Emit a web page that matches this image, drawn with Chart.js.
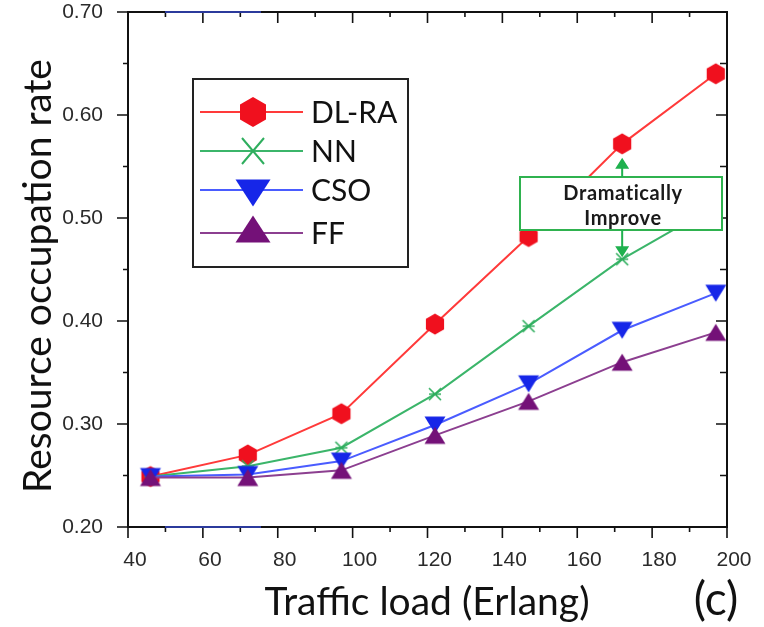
<!DOCTYPE html>
<html>
<head>
<meta charset="utf-8">
<script src="https://cdn.jsdelivr.net/npm/chart.js@4.4.0/dist/chart.umd.min.js"></script>
<style>
  html, body { margin: 0; padding: 0; background: #fff; }
  #wrap { width: 764px; height: 627px; position: relative; }
</style>
</head>
<body>
<div id="wrap"><canvas id="chart"></canvas></div>
<script>
// ===== data =====
const loads = [46, 72, 97, 122, 147, 172, 197];
const dlra  = [0.249, 0.270, 0.310, 0.397, 0.482, 0.572, 0.640];
const nn    = [0.249, 0.259, 0.277, 0.329, 0.395, 0.460, 0.512];
const cso   = [0.249, 0.251, 0.264, 0.299, 0.339, 0.391, 0.427];
const ff    = [0.248, 0.248, 0.255, 0.289, 0.322, 0.360, 0.389];
const seriesNames = ['DL-RA', 'NN', 'CSO', 'FF'];
const xRange = [40, 200];
const yRange = [0.20, 0.70];

const COL = {
  dlraLine: '#ff3a3a', dlraMark: '#f0101e',
  nnLine: '#3bb56a',   nnMark: '#2fae5e',
  csoLine: '#4a5cff',  csoMark: '#1626e8',
  ffLine: '#8c3f90',   ffMark: '#741178'
};

// ===== marker shapes =====
function hexPath(ctx, cx, cy, r) {
  ctx.beginPath();
  for (let i = 0; i < 6; i++) {
    const a = Math.PI / 2 + i * Math.PI / 3;
    const px = cx + r * Math.cos(a), py = cy - r * Math.sin(a);
    if (i === 0) ctx.moveTo(px, py); else ctx.lineTo(px, py);
  }
  ctx.closePath();
}
function triPath(ctx, cx, cy, w, h, down) {
  ctx.beginPath();
  if (down) {
    ctx.moveTo(cx - w / 2, cy - h / 2);
    ctx.lineTo(cx + w / 2, cy - h / 2);
    ctx.lineTo(cx, cy + h / 2);
  } else {
    ctx.moveTo(cx - w / 2, cy + h / 2);
    ctx.lineTo(cx + w / 2, cy + h / 2);
    ctx.lineTo(cx, cy - h / 2);
  }
  ctx.closePath();
}
function makeMarker(size, draw) {
  const c = document.createElement('canvas');
  c.width = size; c.height = size;
  draw(c.getContext('2d'), size / 2);
  return c;
}
const hexMark = makeMarker(24, (ctx, m) => { hexPath(ctx, m, m, 10.5); ctx.fillStyle = COL.dlraMark; ctx.fill(); });
const starMark = makeMarker(16, (ctx, m) => {
  ctx.strokeStyle = COL.nnMark; ctx.lineWidth = 1.6;
  ctx.beginPath();
  ctx.moveTo(m - 6, m - 6); ctx.lineTo(m + 6, m + 6);
  ctx.moveTo(m + 6, m - 6); ctx.lineTo(m - 6, m + 6);
  ctx.moveTo(m - 6, m); ctx.lineTo(m + 6, m);
  ctx.stroke();
});
const downMark = makeMarker(24, (ctx, m) => { triPath(ctx, m, m, 21, 17, true); ctx.fillStyle = COL.csoMark; ctx.fill(); });
const upMark = makeMarker(24, (ctx, m) => { triPath(ctx, m, m, 21, 17, false); ctx.fillStyle = COL.ffMark; ctx.fill(); });

function pts(ys) { return loads.map((x, i) => ({ x: x, y: ys[i] })); }

function ds(label, ys, line, mark) {
  return {
    label: label, data: pts(ys), borderColor: line, backgroundColor: line,
    borderWidth: 2, pointStyle: mark, pointRadius: 10, pointHoverRadius: 10,
    tension: 0, clip: false
  };
}

// ===== frame, legend, titles, annotation =====
const decor = {
  id: 'decor',
  afterDatasetsDraw(chart) {
    const ctx = chart.ctx;
    const xs = chart.scales.x, ys = chart.scales.y;
    const a = chart.chartArea;
    ctx.save();

    // axes box
    ctx.strokeStyle = '#111';
    ctx.lineWidth = 2;
    ctx.strokeRect(a.left, a.top, a.right - a.left, a.bottom - a.top);

    // ticks
    ctx.lineWidth = 1.6;
    ctx.beginPath();
    for (let v = xRange[0]; v <= xRange[1]; v += 10) {
      const px = xs.getPixelForValue(v);
      const major = v % 20 === 0;
      ctx.moveTo(px, a.bottom); ctx.lineTo(px, a.bottom + (major ? 11 : 5));
      ctx.moveTo(px, a.top); ctx.lineTo(px, a.top + (major ? 11 : 5));
    }
    for (let k = 0; k <= 10; k++) {
      const v = yRange[0] + k * 0.05;
      const py = ys.getPixelForValue(v);
      const major = k % 2 === 0;
      ctx.moveTo(a.left, py); ctx.lineTo(a.left - (major ? 11 : 5), py);
      ctx.moveTo(a.right, py); ctx.lineTo(a.right - (major ? 11 : 7), py);
    }
    ctx.stroke();

    // blue strokes along top and bottom axes
    ctx.strokeStyle = '#2b3a9c';
    ctx.lineWidth = 2;
    ctx.beginPath();
    ctx.moveTo(165, a.top); ctx.lineTo(261, a.top);
    ctx.moveTo(165, a.bottom); ctx.lineTo(261, a.bottom);
    ctx.stroke();

    // legend
    const L = { x: 193, y: 79, w: 215, h: 188 };
    ctx.fillStyle = '#fff';
    ctx.fillRect(L.x, L.y, L.w, L.h);
    ctx.strokeStyle = '#222';
    ctx.lineWidth = 2;
    ctx.strokeRect(L.x, L.y, L.w, L.h);
    const rows = [112, 151, 190, 233];
    const lineCols = [COL.dlraLine, COL.nnLine, COL.csoLine, COL.ffLine];
    ctx.font = '30px Lato';
    ctx.textBaseline = 'middle';
    ctx.textAlign = 'left';
    rows.forEach((ry, i) => {
      ctx.strokeStyle = lineCols[i];
      ctx.lineWidth = 2;
      ctx.beginPath(); ctx.moveTo(200, ry); ctx.lineTo(303, ry); ctx.stroke();
      const mx = 253;
      if (i === 0) { hexPath(ctx, mx, ry, 15); ctx.fillStyle = COL.dlraMark; ctx.fill(); }
      if (i === 1) {
        ctx.strokeStyle = COL.nnMark; ctx.lineWidth = 2;
        ctx.beginPath();
        ctx.moveTo(mx - 11, ry - 13); ctx.lineTo(mx + 11, ry + 13);
        ctx.moveTo(mx + 11, ry - 13); ctx.lineTo(mx - 11, ry + 13);
        ctx.stroke();
      }
      if (i === 2) { triPath(ctx, mx, ry + 3, 35, 27, true); ctx.fillStyle = COL.csoMark; ctx.fill(); }
      if (i === 3) { triPath(ctx, mx, ry - 4, 35, 27, false); ctx.fillStyle = COL.ffMark; ctx.fill(); }
      ctx.fillStyle = '#111';
      ctx.fillText(seriesNames[i], 311, ry + 1);
    });

    // "Dramatically Improve" annotation
    const ax = xs.getPixelForValue(loads[5]);
    const B = { x: 520, y: 177, w: 202, h: 53 };
    ctx.fillStyle = '#fff';
    ctx.fillRect(B.x, B.y, B.w, B.h);
    ctx.strokeStyle = '#2fb24f';
    ctx.lineWidth = 2;
    ctx.strokeRect(B.x, B.y, B.w, B.h);
    ctx.fillStyle = '#1a1a1a';
    ctx.font = 'bold 20px Lato';
    ctx.textAlign = 'center';
    ctx.letterSpacing = '0.6px';
    ctx.fillText('Dramatically', B.x + B.w / 2 + 2, 194);
    ctx.fillText('Improve', B.x + B.w / 2 + 2, 219);
    ctx.letterSpacing = '0px';

    const topTip = ys.getPixelForValue(dlra[5]) + 14;
    const botTip = ys.getPixelForValue(nn[5]) - 2;
    ctx.strokeStyle = '#1fb14e';
    ctx.fillStyle = '#1fb14e';
    ctx.lineWidth = 2;
    ctx.beginPath();
    ctx.moveTo(ax, B.y); ctx.lineTo(ax, topTip + 8);
    ctx.moveTo(ax, B.y + B.h); ctx.lineTo(ax, botTip - 8);
    ctx.stroke();
    ctx.beginPath();
    ctx.moveTo(ax, topTip); ctx.lineTo(ax - 7, topTip + 11); ctx.lineTo(ax + 7, topTip + 11); ctx.closePath();
    ctx.moveTo(ax, botTip); ctx.lineTo(ax - 7, botTip - 11); ctx.lineTo(ax + 7, botTip - 11); ctx.closePath();
    ctx.fill();

    // axis titles
    ctx.fillStyle = '#111';
    ctx.font = '39px Lato';
    ctx.textAlign = 'center';
    ctx.textBaseline = 'middle';
    ctx.fillText('Traffic load (Erlang)', 427, 602);
    ctx.font = '46px Lato';
    ctx.fillText('(c)', 716, 600);
    ctx.save();
    ctx.translate(38, 276);
    ctx.rotate(-Math.PI / 2);
    ctx.font = '39px Lato';
    ctx.fillText('Resource occupation rate', 0, 0);
    ctx.restore();

    ctx.restore();
  }
};

new Chart(document.getElementById('chart'), {
  type: 'line',
  data: {
    datasets: [
      ds('FF', ff, COL.ffLine, upMark),
      ds('CSO', cso, COL.csoLine, downMark),
      ds('NN', nn, COL.nnLine, starMark),
      ds('DL-RA', dlra, COL.dlraLine, hexMark)
    ]
  },
  options: {
    responsive: true,
    maintainAspectRatio: false,
    animation: false,
    devicePixelRatio: 1,
    layout: { padding: { left: 0, right: 37, top: 12, bottom: 0 }, autoPadding: false },
    plugins: { legend: { display: false }, tooltip: { enabled: false } },
    scales: {
      x: {
        type: 'linear', min: xRange[0], max: xRange[1],
        grid: { display: false }, border: { display: false },
        afterFit: s => { s.height = 100; s.paddingLeft = 0; s.paddingRight = 0; },
        ticks: {
          stepSize: 10, autoSkip: false, maxRotation: 0, padding: 13, labelOffset: 7,
          color: '#2a2a2a', font: { family: 'Liberation Sans', size: 21 },
          callback: v => (v % 20 === 0 ? String(v) : '')
        }
      },
      y: {
        type: 'linear', min: yRange[0], max: yRange[1],
        grid: { display: false }, border: { display: false },
        afterFit: s => { s.width = 128; s.paddingTop = 0; s.paddingBottom = 0; },
        ticks: {
          stepSize: 0.05, autoSkip: false, padding: 17,
          color: '#2a2a2a', font: { family: 'Liberation Sans', size: 21 },
          callback: v => {
            const k = Math.round(v * 100);
            return k % 10 === 0 ? (k / 100).toFixed(2) : '';
          }
        }
      }
    }
  },
  plugins: [decor]
});
</script>
</body>
</html>
